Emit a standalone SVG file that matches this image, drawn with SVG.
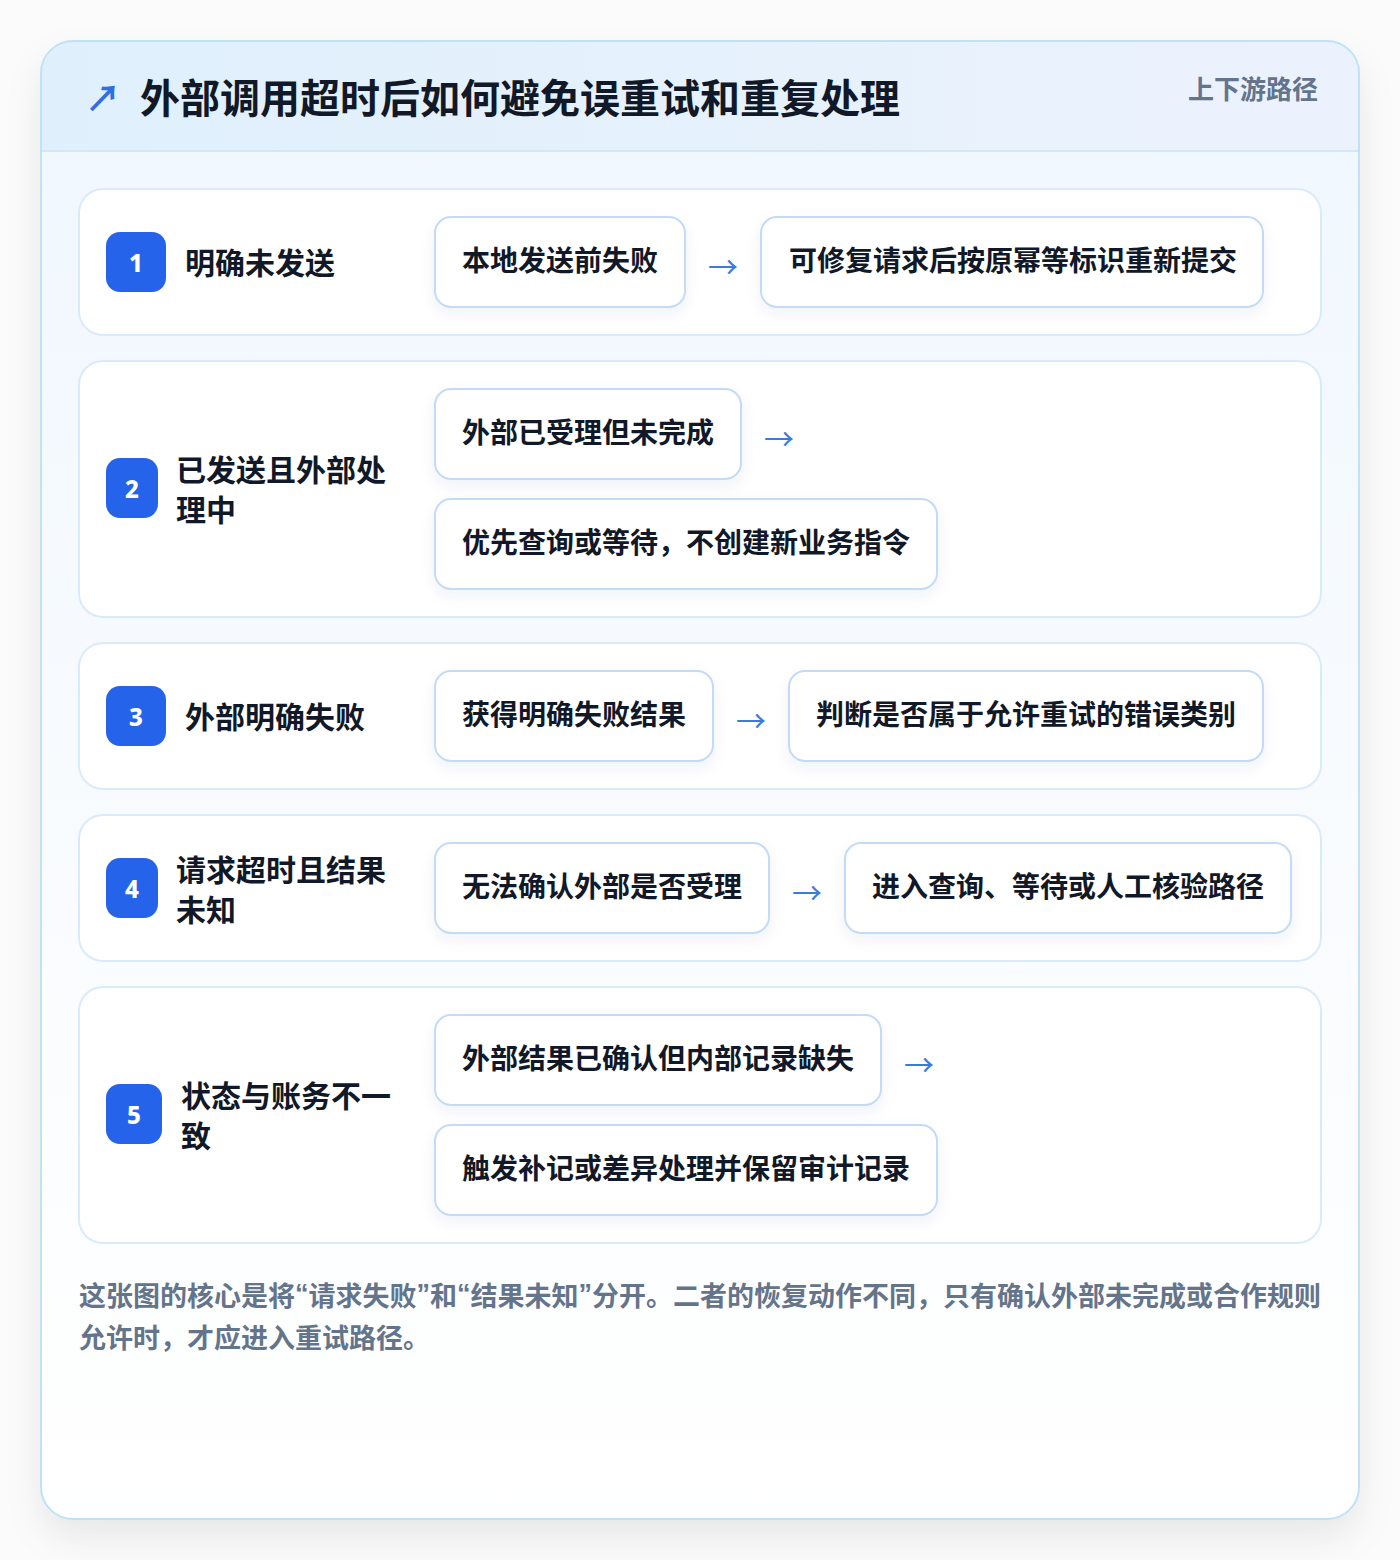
<svg xmlns="http://www.w3.org/2000/svg" width="1400" height="1560" viewBox="0 0 1400 1560">
  <defs>
    <linearGradient id="hdr" x1="0" y1="0" x2="1" y2="0">
      <stop offset="0" stop-color="#dff0fc"/>
      <stop offset="1" stop-color="#ecf2fd"/>
    </linearGradient>
    <linearGradient id="body" x1="0" y1="0" x2="0" y2="1">
      <stop offset="0" stop-color="#eff7fe"/>
      <stop offset="0.5" stop-color="#f8fbfe"/>
      <stop offset="1" stop-color="#ffffff"/>
    </linearGradient>
    <filter id="cardShadow" x="-10%" y="-10%" width="120%" height="120%">
      <feDropShadow dx="0" dy="18" stdDeviation="18" flood-color="#0f172a" flood-opacity="0.08"/>
    </filter>
    <filter id="boxShadow" x="-10%" y="-20%" width="120%" height="160%">
      <feDropShadow dx="0" dy="6" stdDeviation="7" flood-color="#1e3a8a" flood-opacity="0.06"/>
    </filter>
    <clipPath id="cardClip">
      <rect x="41" y="41" width="1318" height="1478" rx="32"/>
    </clipPath>
  </defs>
  <style>
    .t { font-family: "Noto Sans CJK SC", "Noto Sans", sans-serif; font-weight: 700; }
    .qo { font-family: "Liberation Sans", "Noto Sans", sans-serif; font-weight: 700; }
    .row { fill: #ffffff; stroke: #dbeafb; stroke-width: 2; }
    .box { fill: #ffffff; stroke: #c3dbf6; stroke-width: 2; }
    .badge { fill: #2563eb; }
    .num { font-family: "Noto Sans", "Inter", sans-serif; font-weight: 800; font-size: 24px; fill: #ffffff; }
    .title { font-size: 30px; fill: #111827; }
    .btxt { font-size: 28px; fill: #111827; }
    .arr { font-family: "Noto Sans CJK SC", "DejaVu Sans", sans-serif; font-size: 30px; fill: #3b7be0; }
    .foot { font-size: 27px; fill: #64748b; }
  </style>
  <rect x="0" y="0" width="1400" height="1560" fill="#fbfbfc"/>
  <g id="card">
    <rect x="41" y="41" width="1318" height="1478" rx="32" fill="url(#body)" filter="url(#cardShadow)"/>
    <g clip-path="url(#cardClip)">
      <rect x="41" y="41" width="1318" height="110" fill="url(#hdr)"/>
      <line x1="41" y1="151" x2="1359" y2="151" stroke="#d4e7f8" stroke-width="2"/>
    </g>
    <rect x="41" y="41" width="1318" height="1478" rx="32" fill="none" stroke="#bfe2f6" stroke-width="2"/>
  </g>
  <g id="header">
    <text class="t" x="85" y="96" font-size="36" fill="#2f6fe0" dominant-baseline="central">↗</text>
    <text class="t" x="140" y="96" font-size="40" fill="#111827" dominant-baseline="central">外部调用超时后如何避免误重试和重复处理</text>
    <text class="t" x="1318" y="87" font-size="26" fill="#64748b" text-anchor="end" dominant-baseline="central">上下游路径</text>
  </g>

  <g id="row1">
    <rect class="row" x="79" y="189" width="1242" height="146" rx="24"/>
    <rect class="badge" x="106" y="232" width="60" height="60" rx="14"/>
    <text class="num" x="136" y="262" text-anchor="middle" dominant-baseline="central">1</text>
    <text class="t title" x="185" y="261" dominant-baseline="central">明确未发送</text>
  </g>
  <g id="row1-a">
    <rect class="box" x="435" y="217" width="250" height="90" rx="16" filter="url(#boxShadow)"/>
    <text class="t btxt" x="462" y="259" dominant-baseline="central">本地发送前失败</text>
  </g>
  <g id="row1-b">
    <rect class="box" x="761" y="217" width="502" height="90" rx="16" filter="url(#boxShadow)"/>
    <text class="t btxt" x="789" y="259" dominant-baseline="central">可修复请求后按原幂等标识重新提交</text>
  </g>

  <g id="row2">
    <rect class="row" x="79" y="361" width="1242" height="256" rx="24"/>
    <rect class="badge" x="106" y="458" width="52" height="60" rx="14"/>
    <text class="num" x="132" y="488" text-anchor="middle" dominant-baseline="central">2</text>
    <text class="t title" x="176" y="468" dominant-baseline="central">已发送且外部处</text>
    <text class="t title" x="176" y="508" dominant-baseline="central">理中</text>
  </g>
  <g id="row2-a">
    <rect class="box" x="435" y="389" width="306" height="90" rx="16" filter="url(#boxShadow)"/>
    <text class="t btxt" x="462" y="431" dominant-baseline="central">外部已受理但未完成</text>
  </g>
  <g id="row2-b">
    <rect class="box" x="435" y="499" width="502" height="90" rx="16" filter="url(#boxShadow)"/>
    <text class="t btxt" x="462" y="541" dominant-baseline="central">优先查询或等待，不创建新业务指令</text>
  </g>

  <g id="row3">
    <rect class="row" x="79" y="643" width="1242" height="146" rx="24"/>
    <rect class="badge" x="106" y="686" width="60" height="60" rx="14"/>
    <text class="num" x="136" y="716" text-anchor="middle" dominant-baseline="central">3</text>
    <text class="t title" x="185" y="715" dominant-baseline="central">外部明确失败</text>
  </g>
  <g id="row3-a">
    <rect class="box" x="435" y="671" width="278" height="90" rx="16" filter="url(#boxShadow)"/>
    <text class="t btxt" x="462" y="713" dominant-baseline="central">获得明确失败结果</text>
  </g>
  <g id="row3-b">
    <rect class="box" x="789" y="671" width="474" height="90" rx="16" filter="url(#boxShadow)"/>
    <text class="t btxt" x="816" y="713" dominant-baseline="central">判断是否属于允许重试的错误类别</text>
  </g>

  <g id="row4">
    <rect class="row" x="79" y="815" width="1242" height="146" rx="24"/>
    <rect class="badge" x="106" y="858" width="52" height="60" rx="14"/>
    <text class="num" x="132" y="888" text-anchor="middle" dominant-baseline="central">4</text>
    <text class="t title" x="176" y="868" dominant-baseline="central">请求超时且结果</text>
    <text class="t title" x="176" y="908" dominant-baseline="central">未知</text>
  </g>
  <g id="row4-a">
    <rect class="box" x="435" y="843" width="334" height="90" rx="16" filter="url(#boxShadow)"/>
    <text class="t btxt" x="462" y="885" dominant-baseline="central">无法确认外部是否受理</text>
  </g>
  <g id="row4-b">
    <rect class="box" x="845" y="843" width="446" height="90" rx="16" filter="url(#boxShadow)"/>
    <text class="t btxt" x="872" y="885" dominant-baseline="central">进入查询、等待或人工核验路径</text>
  </g>

  <g id="row5">
    <rect class="row" x="79" y="987" width="1242" height="256" rx="24"/>
    <rect class="badge" x="106" y="1084" width="56" height="60" rx="14"/>
    <text class="num" x="134" y="1114" text-anchor="middle" dominant-baseline="central">5</text>
    <text class="t title" x="181" y="1094" dominant-baseline="central">状态与账务不一</text>
    <text class="t title" x="181" y="1134" dominant-baseline="central">致</text>
  </g>
  <g id="row5-a">
    <rect class="box" x="435" y="1015" width="446" height="90" rx="16" filter="url(#boxShadow)"/>
    <text class="t btxt" x="462" y="1057" dominant-baseline="central">外部结果已确认但内部记录缺失</text>
  </g>
  <g id="row5-b">
    <rect class="box" x="435" y="1125" width="502" height="90" rx="16" filter="url(#boxShadow)"/>
    <text class="t btxt" x="462" y="1167" dominant-baseline="central">触发补记或差异处理并保留审计记录</text>
  </g>

  <g id="connectors">
    <text class="arr" x="708" y="265" dominant-baseline="central">→</text>
    <text class="arr" x="764" y="437" dominant-baseline="central">→</text>
    <text class="arr" x="736" y="719" dominant-baseline="central">→</text>
    <text class="arr" x="792" y="891" dominant-baseline="central">→</text>
    <text class="arr" x="904" y="1063" dominant-baseline="central">→</text>
  </g>

  <g id="footer">
    <text class="t foot" x="79" y="1294" dominant-baseline="central">这张图的核心是将<tspan class="qo">“</tspan>请求失败<tspan class="qo">”</tspan>和<tspan class="qo">“</tspan>结果未知<tspan class="qo">”</tspan>分开。二者的恢复动作不同，只有确认外部未完成或合作规则</text>
    <text class="t foot" x="79" y="1336" dominant-baseline="central">允许时，才应进入重试路径。</text>
  </g>
</svg>
